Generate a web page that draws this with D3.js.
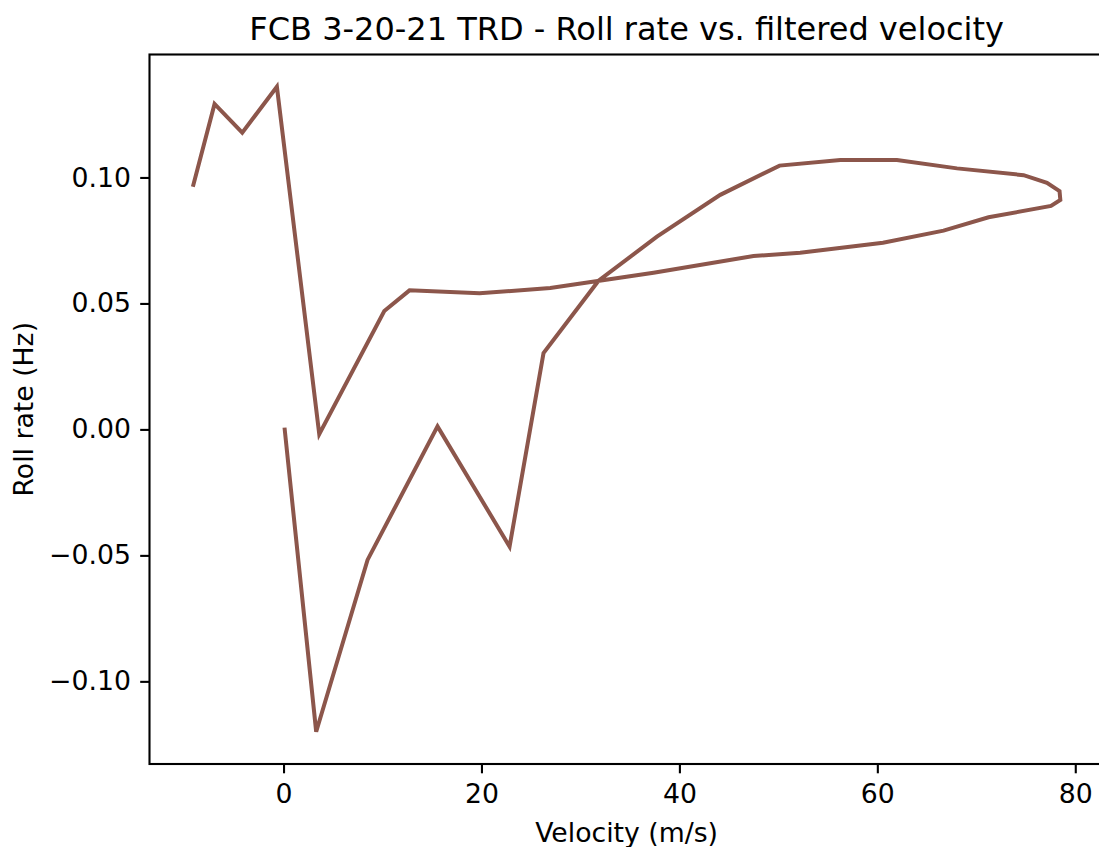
<!DOCTYPE html>
<html>
<head>
<meta charset="utf-8">
<script src="https://cdn.jsdelivr.net/npm/d3@7"></script>
<style>
  html, body { margin: 0; padding: 0; background: #fff; }
  text { font-family: "DejaVu Sans", sans-serif; fill: #000; }
</style>
</head>
<body>
<script>
// Velocity (m/s) along the track, in time order
const velocity = [0.10, 3.30, 8.49, 15.56, 22.84, 26.27, 31.83, 37.73, 44.13, 50.12,
  56.26, 61.98, 68.05, 74.78, 77.14, 78.41, 78.49, 77.55, 71.24, 66.69, 60.57,
  52.2, 47.49, 37.39, 26.95, 19.81, 12.73, 10.18, 3.61, -0.67, -4.17, -6.97, -9.16];
// Roll rate (Hz)
const rollRate = [0.0007, -0.1200, -0.0518, 0.0012, -0.0465, 0.0303, 0.0590, 0.0765, 0.0931, 0.1047,
  0.1069, 0.1069, 0.1036, 0.1009, 0.0979, 0.0946, 0.0911, 0.0887, 0.0842, 0.0789, 0.0741,
  0.0701, 0.0688, 0.0622, 0.0561, 0.0540, 0.0552, 0.0470, -0.0019, 0.1360, 0.1178, 0.1292, 0.0963];
const xTicks = [0, 20, 40, 60, 80];
const yTicks = [-0.10, -0.05, 0.00, 0.05, 0.10];

(function () {
const W = 1099, H = 847;
const mL = 149.5, mR = 1103.7, mT = 54.5, mB = 764.0;

const svg = d3.select("body").append("svg").attr("width", W).attr("height", H);

const xExt = d3.extent(velocity), yExt = d3.extent(rollRate);
const xm = (xExt[1] - xExt[0]) * 0.05, ym = (yExt[1] - yExt[0]) * 0.05;
const x = d3.scaleLinear().domain([xExt[0] - xm, xExt[1] + xm]).range([mL, mR]);
const y = d3.scaleLinear().domain([yExt[0] - ym, yExt[1] + ym]).range([mB, mT]);

const pts = velocity.map((v, i) => [v, rollRate[i]]);

svg.append("defs").append("clipPath").attr("id", "clip")
  .append("rect").attr("x", mL).attr("y", mT).attr("width", mR - mL).attr("height", mB - mT);

svg.append("path")
  .datum(pts)
  .attr("clip-path", "url(#clip)")
  .attr("fill", "none")
  .attr("stroke", "#8c564b")
  .attr("stroke-width", 4)
  .attr("stroke-linejoin", "miter")
  .attr("stroke-linecap", "butt")
  .attr("d", d3.line().x(d => x(d[0])).y(d => y(d[1])));

const fs = 26.7;
// X axis
const xAxis = svg.append("g").attr("transform", `translate(0,${mB})`)
  .call(d3.axisBottom(x).tickValues(xTicks).tickFormat(d3.format("d")).tickSize(9.3).tickPadding(10.5));
xAxis.select(".domain").remove();
xAxis.selectAll(".tick line").attr("stroke", "#000").attr("stroke-width", 2.1);
xAxis.selectAll(".tick text").attr("font-size", fs).attr("font-family", "DejaVu Sans");

// Y axis
const fmtY = d => (d < 0 ? "\u2212" : "") + Math.abs(d).toFixed(2);
const yAxis = svg.append("g").attr("transform", `translate(${mL},0)`)
  .call(d3.axisLeft(y).tickValues(yTicks).tickFormat(fmtY).tickSize(9.3).tickPadding(9.3));
yAxis.select(".domain").remove();
yAxis.selectAll(".tick line").attr("stroke", "#000").attr("stroke-width", 2.1);
yAxis.selectAll(".tick text").attr("font-size", fs).attr("font-family", "DejaVu Sans");

// Spines
svg.append("rect").attr("x", mL).attr("y", mT).attr("width", mR - mL).attr("height", mB - mT)
  .attr("fill", "none").attr("stroke", "#000").attr("stroke-width", 2.1);

// Labels
svg.append("text").attr("x", (mL + mR) / 2).attr("y", 40)
  .attr("text-anchor", "middle").attr("font-size", 32).text("FCB 3-20-21 TRD - Roll rate vs. filtered velocity");
svg.append("text").attr("x", (mL + mR) / 2).attr("y", 842)
  .attr("text-anchor", "middle").attr("font-size", fs).text("Velocity (m/s)");
svg.append("text").attr("transform", `translate(33,${(mT + mB) / 2}) rotate(-90)`)
  .attr("text-anchor", "middle").attr("font-size", fs).text("Roll rate (Hz)");
})();
</script>
</body>
</html>
